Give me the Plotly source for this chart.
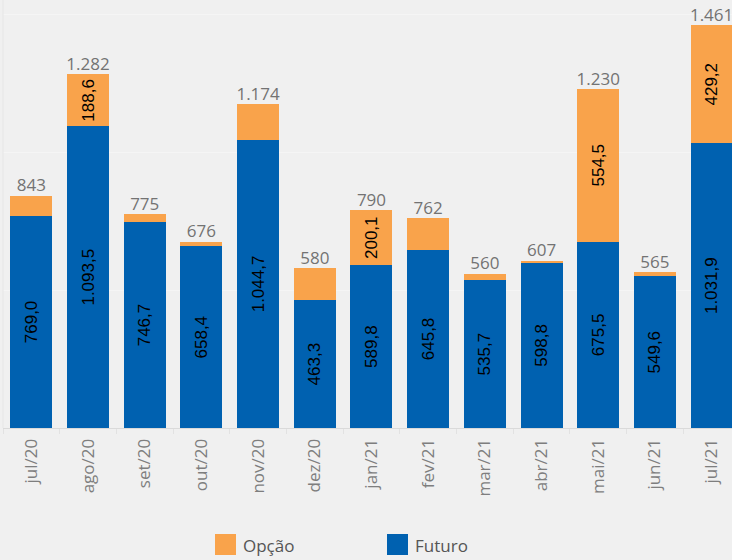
import plotly.graph_objects as go

meses = ["jul/20", "ago/20", "set/20", "out/20", "nov/20", "dez/20", "jan/21",
         "fev/21", "mar/21", "abr/21", "mai/21", "jun/21", "jul/21"]
futuro = [769.0, 1093.5, 746.7, 658.4, 1044.7, 463.3, 589.8,
          645.8, 535.7, 598.8, 675.5, 549.6, 1031.9]
opcao = [74.0, 188.6, 28.3, 17.6, 129.3, 116.7, 200.1,
         116.2, 24.3, 8.2, 554.5, 15.4, 429.2]


def br(v, dec):
    s = f"{v:,.{dec}f}"
    return s.replace(",", "X").replace(".", ",").replace("X", ".")


totais = [f + o for f, o in zip(futuro, opcao)]
txt_fut = [br(v, 1) for v in futuro]
txt_opc = [br(v, 1) if v >= 150 else "" for v in opcao]
txt_tot = [br(round(t), 0) for t in totais]

BLUE = "#0061B0"
ORANGE = "#F9A34B"
BG = "#F0F0F0"

fig = go.Figure()
fig.add_trace(go.Bar(
    x=meses, y=futuro, name="Futuro", marker=dict(color=BLUE, line=dict(width=0)),
    text=txt_fut, textposition="inside", insidetextanchor="middle", textangle=-90,
    insidetextfont=dict(family="Liberation Sans, Arial", size=17, color="black"),
    showlegend=False, hoverinfo="x+y"))
fig.add_trace(go.Bar(
    x=meses, y=opcao, name="Opção", marker=dict(color=ORANGE, line=dict(width=0)),
    text=txt_opc, textposition="inside", insidetextanchor="middle", textangle=-90,
    insidetextfont=dict(family="Liberation Sans, Arial", size=17, color="black"),
    showlegend=False, hoverinfo="x+y"))
fig.add_trace(go.Scatter(
    x=meses, y=totais, mode="text", text=txt_tot, textposition="top center",
    textfont=dict(family="Open Sans", size=17, color="#737373"),
    cliponaxis=False, showlegend=False, hoverinfo="skip"))

fig.update_layout(
    barmode="stack", bargap=0.26,
    width=732, height=560,
    margin=dict(l=3, r=0, t=0, b=132),
    paper_bgcolor=BG, plot_bgcolor=BG,
    uniformtext=dict(minsize=17, mode="show"),
    xaxis=dict(type="category", range=[-0.5, 12.36], tickangle=-90,
               tickfont=dict(family="Open Sans", size=17, color="#7E7E7E"),
               ticks="outside", tickson="boundaries", ticklen=5, tickcolor="#E2E2E2",
               ticklabelstandoff=3,
               showline=True, linecolor="#DADADA", linewidth=1, showgrid=False,
               fixedrange=True),
    yaxis=dict(range=[0, 1552], dtick=500, showticklabels=False, showgrid=True,
               gridcolor="#F5F5F5", gridwidth=1, zeroline=False, fixedrange=True),
    shapes=[
        dict(type="line", xref="paper", yref="paper", x0=0, x1=0, y0=0, y1=1,
             line=dict(color="#E6E6E6", width=1)),
        dict(type="rect", xref="paper", yref="paper",
             x0=(215 - 3) / 729, x1=(236 - 3) / 729,
             y0=-(555 - 428) / 428, y1=-(534 - 428) / 428,
             fillcolor=ORANGE, line=dict(width=0)),
        dict(type="rect", xref="paper", yref="paper",
             x0=(387 - 3) / 729, x1=(408 - 3) / 729,
             y0=-(555 - 428) / 428, y1=-(534 - 428) / 428,
             fillcolor=BLUE, line=dict(width=0)),
    ],
    annotations=[
        dict(text="Opção", xref="paper", yref="paper", x=(241 - 3) / 729,
             y=-(545 - 428) / 428, xanchor="left", yanchor="middle", showarrow=False,
             font=dict(family="Open Sans", size=17, color="#555555")),
        dict(text="Futuro", xref="paper", yref="paper", x=(413 - 3) / 729,
             y=-(545 - 428) / 428, xanchor="left", yanchor="middle", showarrow=False,
             font=dict(family="Open Sans", size=17, color="#555555")),
    ],
)

fig.write_html("out.html")
